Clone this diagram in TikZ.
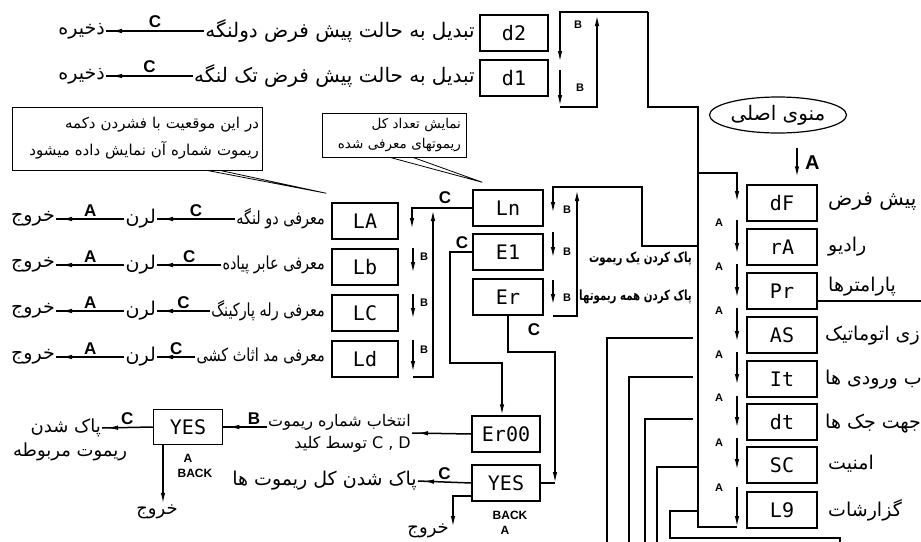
\documentclass[tikz,border=0pt]{standalone}
\usepackage{fontspec}
\usepackage{graphicx}
\setmainfont{Liberation Sans}
\newfontfamily\fafont[Script=Arabic]{DejaVu Sans}
\newfontfamily\segfont{DejaVu Sans Mono}
\TeXXeTstate=1
\usetikzlibrary{arrows.meta,shapes.geometric,decorations.markings}
\newcommand{\prs}[1]{{\fafont\beginR #1\endR}}
\newcommand{\prsn}[1]{\scalebox{0.8}[1]{\prs{#1}}}

\begin{document}
\begin{tikzpicture}[x=1pt,y=-1pt,
  seg/.style={draw,line width=1.5pt,minimum width=68pt,minimum height=36pt,inner sep=0pt,font=\segfont\fontsize{20}{20}\selectfont},
  fa/.style={font=\fontsize{19}{21}\selectfont,inner sep=1pt},
  fai/.style={font=\fontsize{18}{20}\selectfont,inner sep=1pt},
  fab/.style={font=\bfseries\fontsize{14}{16}\selectfont,inner sep=1pt},
  note/.style={draw,line width=0.8pt},
  lnk/.style={line width=1.5pt},
  varr/.style={lnk,-{Latex[length=11pt,width=4.5pt]}},
  harr/.style={lnk,postaction={decorate},decoration={markings,mark=at position -5pt with {\arrow{Latex[length=11pt,width=4.5pt]}}}},
  key/.style={font=\bfseries\fontsize{17}{17}\selectfont,inner sep=0pt},
  tiny/.style={font=\bfseries\fontsize{11}{11}\selectfont,inner sep=0pt},
  back/.style={font=\bfseries\fontsize{12}{12}\selectfont,inner sep=0pt},
]
  \useasboundingbox (0,0) rectangle (921,541);
  \clip (0,0) rectangle (921,541);

  \node[seg] (d2) at (514,33) {d2};
  \node[seg] (d1) at (514,78) {d1};
  \node[fa,font=\fontsize{20}{22}\selectfont,anchor=east] (td2) at (476,31) {\prs{تبدیل به حالت پیش فرض دولنگه}};
  \node[fa,font=\fontsize{20}{22}\selectfont,anchor=east] (td1) at (476,76) {\prs{تبدیل به حالت پیش فرض تک لنگه}};
  \node[fa,anchor=east] (sv2) at (106,31) {\prs{ذخیره}};
  \node[fa,anchor=east] (sv1) at (106,76) {\prs{ذخیره}};
  \draw[harr] (td2.west) -- node[key,above=3pt]{C} (sv2.east);
  \draw[harr] (td1.west) -- node[key,above=3pt]{C} (sv1.east);

  \draw[varr] (648,12) -- (560,12) -- (560,62);
  \draw[varr] (560,70) -- (560,106);
  \draw[varr] (560,107) -- (597,107) -- (597,15);
  \node[tiny] at (578,25) {B};
  \node[tiny] at (580,88) {B};
  \draw[lnk] (648,12) -- (648,107) -- (698,107) -- (698,527) -- (737,527);

  \node[note,fa,font=\fontsize{15}{27}\selectfont,align=right,text width=244pt,minimum height=63pt,inner sep=3pt] (cb) at (137,138.5)
    {\prs{در این موقعیت با فشردن دکمه}\\\prs{ریموت شماره آن نمایش داده میشود}};
  \node[note,fa,font=\fontsize{13.5}{20}\selectfont,align=right,text width=134pt,minimum height=44pt,inner sep=5pt] (cs) at (394,135)
    {\prs{نمایش تعداد کل}\\\prs{ریموتهای معرفی شده}};

  \node[seg,minimum width=66pt] (LA) at (365,221) {LA};
  \node[seg,minimum width=66pt] (Lb) at (365,267) {Lb};
  \node[seg,minimum width=66pt] (LC) at (365,313) {LC};
  \node[seg,minimum width=66pt] (Ld) at (365,359) {Ld};
  \node[fai,anchor=east] (iLA) at (326,219) {\prsn{معرفی دو لنگه}};
  \node[fai,anchor=east] (iLb) at (326,265) {\prsn{معرفی عابر پیاده}};
  \node[fai,anchor=east] (iLC) at (326,311) {\prsn{معرفی رله پارکینگ}};
  \node[fai,anchor=east] (iLd) at (326,357) {\prsn{معرفی مد اثاث کشی}};
  \node[fa,anchor=east] (nLA) at (157,219) {\prs{لرن}};
  \node[fa,anchor=east] (nLb) at (157,265) {\prs{لرن}};
  \node[fa,anchor=east] (nLC) at (157,311) {\prs{لرن}};
  \node[fa,anchor=east] (nLd) at (157,357) {\prs{لرن}};
  \node[fa,anchor=east] (xLA) at (56,219) {\prs{خروج}};
  \node[fa,anchor=east] (xLb) at (56,265) {\prs{خروج}};
  \node[fa,anchor=east] (xLC) at (56,311) {\prs{خروج}};
  \node[fa,anchor=east] (xLd) at (56,357) {\prs{خروج}};
  \draw[harr] (iLA.west) -- node[key,above=2pt]{C} (nLA.east);
  \draw[harr] (iLb.west) -- node[key,above=2pt]{C} (nLb.east);
  \draw[harr] (iLC.west) -- node[key,above=2pt]{C} (nLC.east);
  \draw[harr] (iLd.west) -- node[key,above=2pt]{C} (nLd.east);
  \draw[harr] (nLA.west) -- node[key,above=2pt]{A} (xLA.east);
  \draw[harr] (nLb.west) -- node[key,above=2pt]{A} (xLb.east);
  \draw[harr] (nLC.west) -- node[key,above=2pt]{A} (xLC.east);
  \draw[harr] (nLd.west) -- node[key,above=2pt]{A} (xLd.east);

  \node[seg,minimum width=70pt] (Ln) at (508,208) {Ln};
  \node[seg,minimum width=70pt] (E1) at (508,252) {E1};
  \node[seg,minimum width=70pt] (Er) at (508,297) {Er};
  \draw[note] ([xshift=70]cb.south) -- ([xshift=-5,yshift=9]LA.north west) -- ([xshift=83]cb.south);
  \draw[note] ([xshift=-4]cs.south) -- ([xshift=10,yshift=7]Ln.north west) -- ([xshift=19]cs.south);

  \draw[varr] (Ln.west) -| (412,229);
  \node[key] at (445,198) {C};
  \draw[varr] (413,248) -- (413,273);
  \draw[varr] (413,294) -- (413,319);
  \draw[varr] (413,340) -- (413,372);
  \node[tiny] at (424,257) {B};
  \node[tiny] at (424,303) {B};
  \node[tiny] at (424,350) {B};
  \draw[varr] (413,377) -- (433,377) -- (433,210);

  \draw[varr] (698,246) -- (642,246) -- (642,187) -- (553,187) -- (553,213);
  \draw[varr] (553,232) -- (553,258);
  \draw[varr] (553,280) -- (553,305);
  \draw[varr] (553,316) -- (577,316) -- (577,190);
  \node[tiny] at (567,210) {B};
  \node[tiny] at (567,252) {B};
  \node[tiny] at (567,298) {B};
  \node[fab,anchor=east] (k1) at (693,259) {\scalebox{0.73}[1]{\prs{پاک کردن یک ریموت}}};
  \node[fab,anchor=east] (k2) at (693,297) {\scalebox{0.73}[1]{\prs{پاک کردن همه ریموتها}}};

  \node[seg] (Er00) at (506,434) {Er00};
  \node[seg] (YESm) at (506,483) {YES};
  \node[seg,minimum width=69pt,minimum height=35pt] (YESl) at (188,427) {YES};
  \draw[varr] (E1.west) -- (450,252) -- (450,363) -- (502,363) -- ([xshift=-4]Er00.north);
  \node[key] at (462,243) {C};
  \draw[varr] (Er.south) |- (555,352) -- (555,483);
  \draw[lnk] (555,483) -- (YESm.east);
  \node[key] at (534,330) {C};

  \node[fa,font=\fontsize{16}{22}\selectfont,align=right,anchor=east] (sel) at (412,433)
    {\prs{انتخاب شماره ریموت}\\\prs{\beginL C , D\endL{} توسط کلید}};
  \draw[harr] (Er00.west) -- (sel.east);
  \draw[harr] (sel.west |- YESl.east) -- node[key,above=2pt,pos=0.3]{B} (YESl.east);
  \node[fa,font=\fontsize{18}{20}\selectfont,anchor=east] (dl1) at (102,428) {\prs{پاک شدن}};
  \node[fa,font=\fontsize{18}{20}\selectfont] (dl2) at (70,452) {\prs{ریموت مربوطه}};
  \draw[harr] (YESl.west) -- node[key,above=2pt]{C} (dl1.east);
  \node[fa,font=\fontsize{18}{20}\selectfont] (xl) at (157,512) {\prs{خروج}};
  \draw[varr] ([xshift=-25]YESl.south) -- ([xshift=-25]YESl.south |- xl.north);
  \node[back] at (188,458) {A};
  \node[back] at (195,473) {BACK};

  \node[fa,anchor=east] (clr) at (418,481) {\prs{پاک شدن کل ریموت ها}};
  \draw[harr] (YESm.west) -- node[key,above=2pt]{C} (clr.east);
  \node[fa,font=\fontsize{18}{20}\selectfont,anchor=east] (xm) at (450,531) {\prs{خروج}};
  \draw[varr] ([yshift=-13]YESm.west) -| (453,527);
  \node[back] at (510,515) {BACK};
  \node[back] at (505,530) {A};

  \node[draw,ellipse,line width=1.2pt,minimum width=120pt,minimum height=36pt,inner sep=0pt,fa,font=\fontsize{20}{22}\selectfont] (menu) at (778,115) {\prs{منوی اصلی}};
  \node[seg,minimum width=70pt] (dF) at (782,203) {dF};
  \node[seg,minimum width=70pt] (rA) at (782,247) {rA};
  \node[seg,minimum width=70pt] (Pr) at (782,291) {Pr};
  \node[seg,minimum width=70pt] (AS) at (782,335) {AS};
  \node[seg,minimum width=70pt] (It) at (782,379) {It};
  \node[seg,minimum width=70pt] (dt) at (782,422) {dt};
  \node[seg,minimum width=70pt] (SC) at (782,465) {SC};
  \node[seg,minimum width=70pt] (L9) at (782,510) {L9};
  \draw[varr] ([xshift=19,yshift=-14]menu.south) -- node[right=4pt,font=\bfseries\fontsize{20}{20}\selectfont]{A} ([xshift=15,yshift=7]dF.north);
  \node[fa,font=\fontsize{20}{22}\selectfont,anchor=west] at (827,202) {\prs{پیش فرض}};
  \node[fa,anchor=west] at (827,247) {\prs{رادیو}};
  \node[fa,anchor=west] at (827,287) {\prs{پارامترها}};
  \node[fa,anchor=west] at (824,336) {\prs{راه اندازی اتوماتیک}};
  \node[fa,anchor=west] at (824,380) {\prs{انتخاب ورودی ها}};
  \node[fa,anchor=west] at (824,424) {\prs{جهت جک ها}};
  \node[fa,anchor=west] at (827,464) {\prs{امنیت}};
  \node[fa,anchor=west] at (827,510) {\prs{گزارشات}};
  \draw[lnk] ([yshift=-10]Pr.east) -- (921,301);

  \draw[varr] (698,173) -- (737,173) -- (737,202);
  \draw[varr] (737,220) -- (737,254);
  \draw[varr] (737,264) -- (737,298);
  \draw[varr] (737,308) -- (737,342);
  \draw[varr] (737,352) -- (737,385);
  \draw[varr] (737,396) -- (737,428);
  \draw[varr] (737,438) -- (737,470);
  \draw[varr] (737,487) -- (737,527);
  \node[tiny] at (719,223) {A};
  \node[tiny] at (719,267) {A};
  \node[tiny] at (719,311) {A};
  \node[tiny] at (719,355) {A};
  \node[tiny] at (719,398) {A};
  \node[tiny] at (719,443) {A};
  \node[tiny] at (719,488) {A};

  \draw[lnk] (693,338) -- (607,338) -- (607,545);
  \draw[lnk] (693,377) -- (629,377) -- (629,545);
  \draw[lnk] (693,419) -- (645,419) -- (645,545);
  \draw[lnk] (698,467) -- (657,467) -- (657,545);
  \draw[lnk] (698,511) -- (670,511) -- (670,538) -- (840,538) -- (840,545);
\end{tikzpicture}
\end{document}
